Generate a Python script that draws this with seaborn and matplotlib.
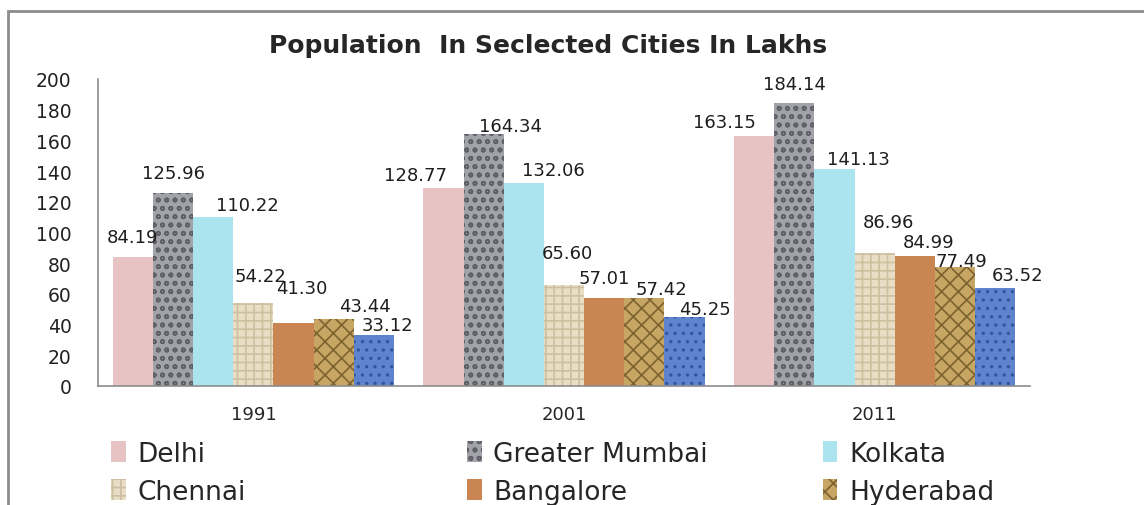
import matplotlib
matplotlib.use("Agg")
import matplotlib.pyplot as plt
from matplotlib.patches import Rectangle, Patch
import seaborn as sns
import pandas as pd

# ─── Data ─────────────────────────────────────────────────────────────────────
YEARS  = ["1991", "2001", "2011"]
CITIES = ["Delhi", "Greater Mumbai", "Kolkata", "Chennai",
          "Bangalore", "Hyderabad", "Ahmedabad"]
POP_1991 = [84.19, 125.96, 110.22, 54.22, 41.30, 43.44, 33.12]
POP_2001 = [128.77, 164.34, 132.06, 65.60, 57.01, 57.42, 45.25]
POP_2011 = [163.15, 184.14, 141.13, 86.96, 84.99, 77.49, 63.52]

# ─── Style ────────────────────────────────────────────────────────────────────
# colours / hatch stand in for the picture textures
COLORS  = ["#e7c3c4", "#a2a2a9", "#abe4ef", "#e8ddc5", "#c98552", "#c7a563", "#5f84cf"]
HATCHES = ["", "oo", "", "++", "", "xx", ".."]
HATCH_C = ["#e7c3c4", "#606068", "#abe4ef", "#cdbf9f", "#c98552", "#7d6330", "#35549a"]

# hand-placed label offsets (pixels) per year, one per city, as in the original
LABEL_DX = [[0, 0, 34, 7, 8, 31, 14],
            [-28, 27, 29, 3, 0, 17, 20],
            [-30, 0, 24, 14, 14, 6, 22]]
LABEL_DY = [[20, 20, 12, 27, 35, 13, 10],
            [13, 8, 13, 32, 20, 9, 8],
            [14, 19, 10, 31, 14, 6, 13]]

rows = []
for yr, vals in zip(YEARS, [POP_1991, POP_2001, POP_2011]):
    for city, v in zip(CITIES, vals):
        rows.append({"year": yr, "city": city, "pop": v})
df = pd.DataFrame(rows)

# ─── Plot ─────────────────────────────────────────────────────────────────────
sns.set_style("white")
plt.rcParams["font.family"] = ["DejaVu Sans"]
plt.rcParams["hatch.linewidth"] = 1.2

fig = plt.figure(figsize=(11.44, 5.06), dpi=100)
ax = fig.add_axes([0.0857, 0.2352, 0.8147, 0.6067])

sns.barplot(data=df, x="year", y="pop", hue="city", hue_order=CITIES,
            palette=COLORS, width=0.905, gap=0, saturation=1,
            errorbar=None, legend=False, ax=ax)

for i, cont in enumerate(ax.containers):
    for j, bar in enumerate(cont):
        bar.set_hatch(HATCHES[i])
        bar.set_edgecolor(HATCH_C[i])
        bar.set_linewidth(0)
        x = bar.get_x() + bar.get_width() / 2
        h = bar.get_height()
        ax.annotate(f"{h:.2f}", xy=(x, h), xytext=(LABEL_DX[j][i], LABEL_DY[j][i]),
                    textcoords="offset pixels", ha="center", va="center",
                    fontsize=13, color="#1e1e1e")

ax.set_ylim(0, 200)
ax.set_yticks(range(0, 201, 20))
ax.set_xlim(-0.5, 2.5)
ax.set_xlabel("")
ax.set_ylabel("")
sns.despine(ax=ax)
for s in ["left", "bottom"]:
    ax.spines[s].set_color("#8c8c8c")
    ax.spines[s].set_linewidth(1.2)
ax.tick_params(axis="y", length=0, pad=19, labelsize=13.5, labelcolor="#222222")
ax.tick_params(axis="x", length=0, pad=14, labelsize=13)

fig.text(0.479, 0.909, "Population  In Seclected Cities In Lakhs",
         ha="center", va="center", fontsize=18, fontweight="bold")

# legend: three columns of two rows (7th entry cut off in the original)
col_x = [0.088, 0.399, 0.710]
for c in range(3):
    idx = [c, c + 3]
    handles = [Patch(facecolor=COLORS[k], edgecolor=HATCH_C[k], hatch=HATCHES[k],
                     linewidth=0) for k in idx]
    fig.legend(handles, [CITIES[k] for k in idx], loc="upper left",
               bbox_to_anchor=(col_x[c], 0.148), frameon=False,
               handlelength=0.55, handleheight=0.85, handletextpad=0.45,
               labelspacing=0.45, borderaxespad=0, fontsize=19)

# outer chart frame (extends past the picture)
fig.add_artist(Rectangle((0.007, -1), 2, 1.976, transform=fig.transFigure,
                         fill=False, edgecolor="#8c8c8c", linewidth=2, clip_on=False))

fig.savefig("out.png", dpi=100)
